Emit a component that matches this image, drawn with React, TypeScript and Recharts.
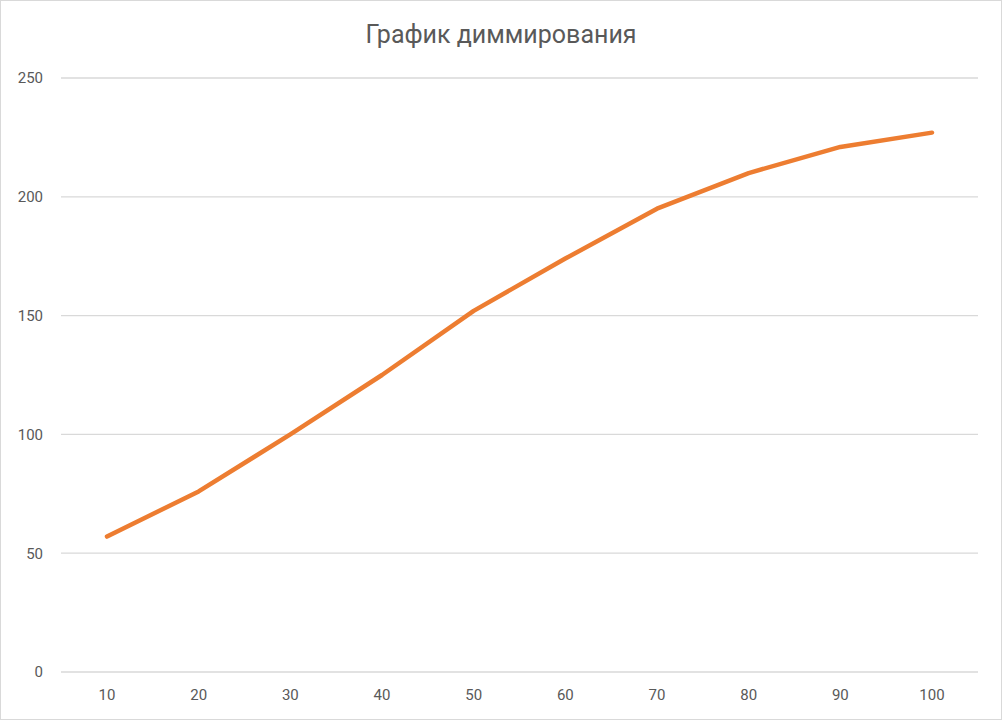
import React from 'react';
import { LineChart, Line, XAxis, YAxis, CartesianGrid } from 'recharts';

const categories = ['10', '20', '30', '40', '50', '60', '70', '80', '90', '100'];
const brightness = [57, 76, 100, 125, 152, 174, 195, 210, 221, 227];
const yTicks = [0, 50, 100, 150, 200, 250];

const data = categories.map((name, i) => ({ name, value: brightness[i] }));

const tickStyle = { fill: '#595959', fontSize: 15, fontFamily: 'Roboto, "Noto Sans", sans-serif' };

const App: React.FC = () => (
    <div
        style={{
            position: 'absolute',
            left: 0,
            top: 0,
            width: 1002,
            height: 720,
            boxSizing: 'border-box',
            border: '1px solid #d9d9d9',
            background: '#fff',
        }}
    >
        <div
            style={{
                position: 'absolute',
                top: 18,
                left: 0,
                width: '100%',
                textAlign: 'center',
                fontFamily: 'Roboto, "Noto Sans", sans-serif',
                fontSize: 25,
                color: '#595959',
                lineHeight: '32px',
            }}
        >
            График диммирования
        </div>
        <LineChart width={1000} height={718} data={data} margin={{ top: 77, right: 23, left: 0, bottom: 0 }}>
            <CartesianGrid vertical={false} stroke="#d9d9d9" strokeWidth={1.3} />
            <XAxis
                dataKey="name"
                axisLine={false}
                tickLine={false}
                tickSize={0}
                tickMargin={17}
                height={47}
                padding={{ left: 46, right: 46 }}
                tick={tickStyle}
                interval={0}
            />
            <YAxis
                domain={[0, 250]}
                ticks={yTicks}
                axisLine={false}
                tickLine={false}
                tickSize={0}
                tickMargin={18}
                width={60}
                tick={tickStyle}
            />
            <Line
                type="linear"
                dataKey="value"
                stroke="#ED7D31"
                strokeWidth={4.5}
                strokeLinecap="round"
                strokeLinejoin="round"
                dot={false}
                activeDot={false}
                isAnimationActive={false}
            />
        </LineChart>
    </div>
);

export default App;
